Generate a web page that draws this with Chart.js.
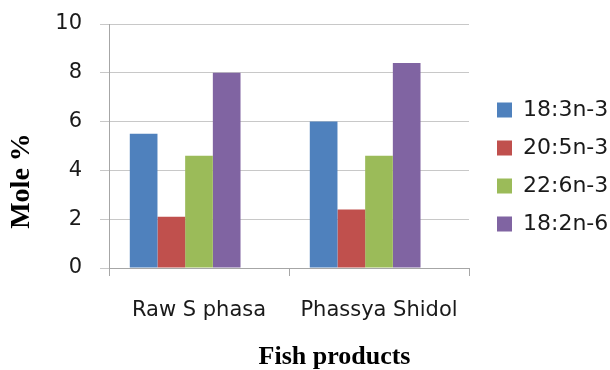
<!DOCTYPE html>
<html>
<head>
<meta charset="utf-8">
<script src="https://cdn.jsdelivr.net/npm/chart.js@4/dist/chart.umd.min.js"></script>
<style>
  html, body { margin: 0; padding: 0; background: #ffffff; }
  #wrap { width: 610px; height: 370px; }
</style>
</head>
<body>
<div id="wrap"><canvas id="c" width="610" height="370"></canvas></div>
<script>
// Fatty acid composition (mole %) of two fish products
const categories = ['Raw S phasa', 'Phassya Shidol'];
const seriesNames = ['18:3n-3', '20:5n-3', '22:6n-3', '18:2n-6'];
const ala  = [5.5, 6.0];   // 18:3n-3
const epa  = [2.1, 2.4];   // 20:5n-3
const dha  = [4.6, 4.6];   // 22:6n-3
const lino = [8.0, 8.4];   // 18:2n-6
const yMin = 0, yMax = 10, yStep = 2;

const colors = ['#4F81BD', '#C0504D', '#9BBB59', '#8064A2'];
const seriesValues = [ala, epa, dha, lino];

const tickFamily = '"DejaVu Sans"';
const titleFamily = '"Liberation Serif"';
const legendSize = 22;
const tickSize = 21;

// width of the longest legend entry, so the legend sits flush at the right edge
const meas = document.createElement('canvas').getContext('2d');
meas.font = legendSize + 'px ' + tickFamily;
const legendTextW = Math.max(...seriesNames.map(s => meas.measureText(s).width));
const legendPad = 16;
const legendLeft = 481;
const legendWidth = legendPad + 15 + legendSize / 2 + legendTextW + 10;
const rightPad = 610 - legendLeft - legendWidth;

const datasets = seriesNames.map((name, i) => ({
  label: name,
  data: seriesValues[i],
  backgroundColor: colors[i],
  borderWidth: 0
}));
// empty slot after the four bars of each group (keeps the group left of centre)
datasets.push({ label: '', data: categories.map(() => null), backgroundColor: 'rgba(0,0,0,0)', borderWidth: 0 });

new Chart(document.getElementById('c'), {
  type: 'bar',
  data: { labels: categories, datasets },
  options: {
    responsive: false,
    animation: false,
    devicePixelRatio: 1,
    categoryPercentage: 0.769,
    barPercentage: 1.0,
    layout: { padding: { top: 24, right: rightPad, bottom: 0, left: 0 } },
    plugins: {
      tooltip: { enabled: false },
      legend: {
        position: 'right',
        align: 'start',
        fullSize: false,
        maxWidth: 300,
        title: { display: true, text: '', font: { size: 12, lineHeight: 1 }, padding: { top: 47, bottom: 0 } },
        labels: {
          filter: item => item.text !== '',
          boxWidth: 15,
          boxHeight: 15,
          padding: legendPad,
          color: '#1a1a1a',
          font: { family: tickFamily, size: legendSize }
        }
      }
    },
    scales: {
      x: {
        offset: true,
        grid: { display: true, drawOnChartArea: false, drawTicks: true, tickLength: 8, color: '#a6a6a6', offset: true },
        border: { display: true, color: '#a6a6a6' },
        ticks: { color: '#1a1a1a', padding: 22, font: { family: tickFamily, size: tickSize } },
        title: {
          display: true,
          text: ' '.repeat(14) + 'Fish products',
          color: '#000000',
          font: { family: titleFamily, size: 26, weight: 'bold', lineHeight: 1 },
          padding: { top: 0, bottom: 0 }
        },
        afterFit: s => { s.height = 102; }
      },
      y: {
        min: yMin,
        max: yMax,
        ticks: { stepSize: yStep, color: '#1a1a1a', padding: 18, font: { family: tickFamily, size: tickSize } },
        grid: { color: '#c8c8c8', tickLength: 9 },
        border: { display: true, color: '#a6a6a6' },
        title: {
          display: true,
          text: 'Mole %' + ' '.repeat(10),
          color: '#000000',
          font: { family: titleFamily, size: 28, weight: 'bold', lineHeight: 1 },
          padding: { top: 8, bottom: 0 }
        },
        afterFit: s => {
          s.width = 109;
          // only half a label of room is needed above the top tick
          s.paddingTop = 12;
          s.paddingBottom = 12;
        }
      },
      gap: {
        type: 'linear',
        position: 'right',
        display: true,
        grid: { display: false },
        border: { display: false },
        ticks: { display: false },
        afterFit: s => { s.width = 12; }
      }
    }
  }
});
</script>
</body>
</html>
